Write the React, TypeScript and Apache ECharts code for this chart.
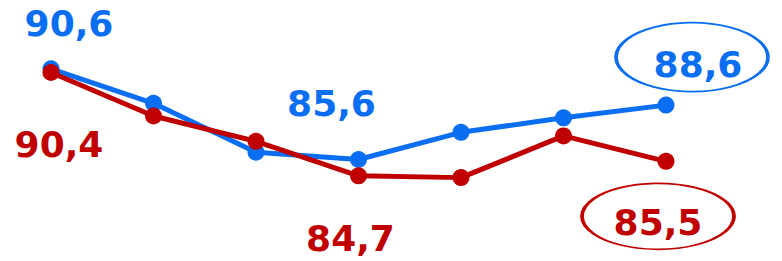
import React, { useEffect, useRef } from "react";
import * as echarts from "echarts";

const categories = ["1", "2", "3", "4", "5", "6", "7"];
const blueValues = [90.6, 88.7, 86.0, 85.6, 87.1, 87.9, 88.6];
const redValues = [90.4, 88.0, 86.6, 84.7, 84.6, 86.9, 85.5];
// indices of points whose values are labelled
const blueLabelIdx = [0, 3, 6];
const redLabelIdx = [0, 3, 6];

const BLUE = "#0A6EF2";
const RED = "#C00000";

const blueLabelOffsets: Record<number, [number, number]> = { 0: [18, -45], 3: [-27, -56], 6: [32, -41] };
const redLabelOffsets: Record<number, [number, number]> = { 0: [8, 72], 3: [-8, 63], 6: [-8, 61] };

const fmt = (v: number) => v.toFixed(1).replace(".", ",");

export default function App() {
  const ref = useRef<HTMLDivElement>(null);
  useEffect(() => {
    if (!ref.current) return;
    const chart = echarts.init(ref.current, undefined, { renderer: "svg" });
    const labelFont = {
      fontFamily: "DejaVu Sans",
      fontWeight: "bold" as const,
      fontSize: 36,
    };
    const mkData = (vals: number[], idx: number[], offs: Record<number, [number, number]>, color: string) =>
      vals.map((v, i) =>
        idx.includes(i)
          ? {
              value: v,
              label: {
                show: true,
                position: "inside",
                align: "center",
                verticalAlign: "middle",
                offset: offs[i],
                formatter: () => fmt(v),
                color,
                ...labelFont,
              },
            }
          : { value: v }
      );
    const last = categories.length - 1;
    chart.setOption({
      animation: false,
      grid: { left: 51, right: 116, top: 0, bottom: 0 },
      xAxis: { type: "category", data: categories, boundaryGap: false, show: false },
      yAxis: { type: "value", min: 80, max: 94.4, show: false },
      series: [
        {
          type: "line",
          data: mkData(blueValues, blueLabelIdx, blueLabelOffsets, BLUE),
          symbol: "circle",
          symbolSize: 17,
          lineStyle: { color: BLUE, width: 5 },
          itemStyle: { color: BLUE },
          label: { show: false },
          markPoint: {
            symbol: "circle",
            symbolSize: [152, 69],
            symbolOffset: [26, -48],
            itemStyle: { color: "rgba(0,0,0,0)", borderColor: BLUE, borderWidth: 2.5 },
            label: { show: false },
            data: [{ coord: [categories[last], blueValues[last]] }],
          },
        },
        {
          type: "line",
          data: mkData(redValues, redLabelIdx, redLabelOffsets, RED),
          symbol: "circle",
          symbolSize: 17,
          lineStyle: { color: RED, width: 5 },
          itemStyle: { color: RED },
          label: { show: false },
          markPoint: {
            symbol: "circle",
            symbolSize: [152, 66],
            symbolOffset: [-8, 55],
            itemStyle: { color: "rgba(0,0,0,0)", borderColor: RED, borderWidth: 2.5 },
            label: { show: false },
            data: [{ coord: [categories[last], redValues[last]] }],
          },
        },
      ],
    });
    return () => chart.dispose();
  }, []);
  return (
    <div
      ref={ref}
      style={{ position: "absolute", left: 0, top: 0, width: 782, height: 261, background: "#fff" }}
    />
  );
}
